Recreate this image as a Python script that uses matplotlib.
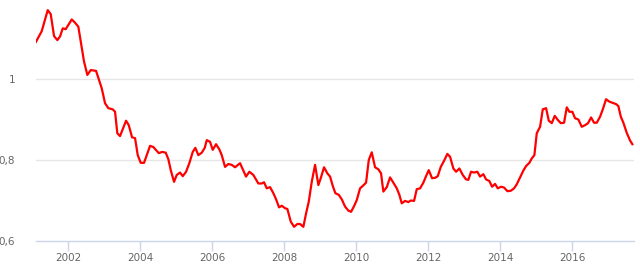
import matplotlib
matplotlib.use("Agg")
import matplotlib.pyplot as plt
from matplotlib.ticker import FixedLocator, FuncFormatter

# Traced dates (decimal years) and values
years = [2001.111, 2001.269, 2001.436, 2001.519, 2001.611, 2001.703, 2001.778, 2001.853, 2001.936,
         2002.103, 2002.194, 2002.286, 2002.444, 2002.536, 2002.631, 2002.778, 2002.936, 2003.028,
         2003.119, 2003.242, 2003.306, 2003.369, 2003.444, 2003.611, 2003.686, 2003.778, 2003.861,
         2003.936, 2004.019, 2004.111, 2004.278, 2004.369, 2004.519, 2004.619, 2004.714, 2004.786,
         2004.853, 2004.944, 2005.019, 2005.111, 2005.186, 2005.278, 2005.369, 2005.464, 2005.536,
         2005.619, 2005.714, 2005.797,
         2005.853, 2005.944, 2006.019, 2006.111, 2006.203, 2006.269, 2006.361, 2006.453, 2006.547,
         2006.639, 2006.778, 2006.869, 2006.944, 2007.036, 2007.147, 2007.286, 2007.381, 2007.444,
         2007.519, 2007.611, 2007.703, 2007.778, 2007.861, 2007.936, 2008.028, 2008.092, 2008.186,
         2008.278, 2008.369, 2008.444, 2008.536, 2008.611, 2008.686, 2008.769, 2008.861, 2008.953,
         2009.019, 2009.111, 2009.203, 2009.278, 2009.353, 2009.425, 2009.519, 2009.603, 2009.694,
         2009.786, 2009.861, 2009.944, 2010.019, 2010.111, 2010.186, 2010.278, 2010.353, 2010.436,
         2010.528, 2010.619, 2010.694, 2010.758, 2010.853, 2010.944, 2011.036, 2011.131, 2011.203,
         2011.269, 2011.361, 2011.453, 2011.519, 2011.611, 2011.686,
         2011.778, 2011.869, 2011.944, 2012.019, 2012.111, 2012.194, 2012.269, 2012.353, 2012.444,
         2012.536, 2012.611, 2012.703, 2012.778, 2012.869, 2012.964, 2013.056, 2013.119, 2013.194,
         2013.278, 2013.369, 2013.444, 2013.536, 2013.611, 2013.703, 2013.778, 2013.861, 2013.936,
         2014.028, 2014.111, 2014.203, 2014.297, 2014.389, 2014.464, 2014.556, 2014.647, 2014.722,
         2014.814, 2014.881, 2014.953, 2015.019, 2015.111, 2015.186, 2015.278, 2015.353, 2015.436,
         2015.519, 2015.603, 2015.686, 2015.778, 2015.853, 2015.925, 2016.008, 2016.083, 2016.175,
         2016.269, 2016.361, 2016.444, 2016.528, 2016.611, 2016.686, 2016.778, 2016.853, 2016.944,
         2017.036, 2017.131, 2017.222, 2017.286, 2017.353, 2017.425, 2017.519, 2017.611, 2017.675]
values = [1.092, 1.118, 1.170, 1.160, 1.106, 1.096, 1.105, 1.125, 1.123,
          1.147, 1.139, 1.129, 1.043, 1.010, 1.022, 1.020, 0.977, 0.940,
          0.928, 0.925, 0.919, 0.866, 0.859, 0.897, 0.886, 0.856, 0.854,
          0.812, 0.793, 0.793, 0.835, 0.832, 0.817, 0.820, 0.818, 0.802,
          0.775, 0.746, 0.763, 0.769, 0.760, 0.771, 0.792, 0.820, 0.830,
          0.812, 0.818, 0.830,
          0.849, 0.845, 0.825, 0.839, 0.826, 0.812, 0.783, 0.790, 0.788,
          0.782, 0.792, 0.774, 0.759, 0.771, 0.763, 0.742, 0.742, 0.745,
          0.730, 0.733, 0.718, 0.703, 0.683, 0.687, 0.681, 0.679, 0.648,
          0.635, 0.642, 0.642, 0.635, 0.668, 0.697, 0.746, 0.788, 0.738,
          0.755, 0.782, 0.767, 0.759, 0.736, 0.718, 0.714, 0.703, 0.685,
          0.675, 0.672, 0.686, 0.701, 0.730, 0.736, 0.744, 0.800, 0.819,
          0.782, 0.777, 0.767, 0.722, 0.733, 0.757, 0.744, 0.730, 0.714,
          0.693, 0.699, 0.696, 0.700, 0.699, 0.728,
          0.730, 0.744, 0.760, 0.775, 0.755, 0.756, 0.760, 0.783, 0.798,
          0.815, 0.808, 0.779, 0.771, 0.779, 0.763, 0.752, 0.751, 0.771,
          0.769, 0.771, 0.759, 0.765, 0.752, 0.748, 0.734, 0.741, 0.730,
          0.734, 0.732, 0.723, 0.724, 0.730, 0.740, 0.757, 0.774, 0.785,
          0.793, 0.804, 0.812, 0.866, 0.882, 0.925, 0.928, 0.897, 0.891,
          0.909, 0.899, 0.891, 0.892, 0.930, 0.919, 0.919, 0.903, 0.900,
          0.882, 0.886, 0.891, 0.905, 0.892, 0.892, 0.907, 0.925, 0.950,
          0.944, 0.941, 0.938, 0.933, 0.907, 0.892, 0.867, 0.848, 0.839]

x_ticks = [2002, 2004, 2006, 2008, 2010, 2012, 2014, 2016]
y_ticks = [0.6, 0.8, 1.0]
y_tick_labels = ["0,6", "0,8", "1"]

fig = plt.figure(figsize=(6.4, 2.64), dpi=100)
ax = fig.add_axes([36/640, 23/264, 598/640, 241/264])
ax.plot(years, values, color="#ff0000", linewidth=1.6, solid_joinstyle="round")

ax.set_xlim(2001.11, 2017.72)
ax.set_ylim(0.6, 1.195)

ax.xaxis.set_major_locator(FixedLocator(x_ticks))
ax.xaxis.set_major_formatter(FuncFormatter(lambda v, p: f"{int(round(v))}"))
ax.set_yticks(y_ticks)
ax.set_yticklabels(y_tick_labels)

for v in y_ticks[1:]:
    ax.axhline(v, color="#e6e6e6", linewidth=1, zorder=0)

for s in ["top", "right", "left"]:
    ax.spines[s].set_visible(False)
ax.spines["bottom"].set_color("#ccd6eb")
ax.spines["bottom"].set_linewidth(1)

ax.tick_params(axis="x", colors="#ccd6eb", length=7, width=1, direction="out",
               labelcolor="#666666", labelsize=7.5, pad=1.5)
ax.tick_params(axis="y", length=0, labelcolor="#666666", labelsize=7.5, pad=15)

fig.savefig("out.png", dpi=100)
